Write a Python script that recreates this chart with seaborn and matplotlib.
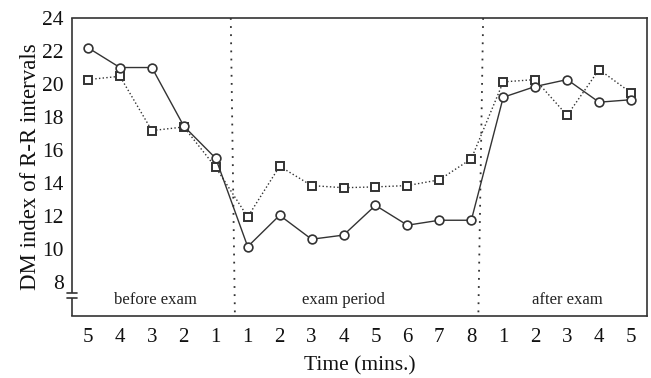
import numpy as np
import pandas as pd
import matplotlib
matplotlib.use("Agg")
import matplotlib.pyplot as plt
import seaborn as sns

# Time labels for the three phases
before_ticks = ["5", "4", "3", "2", "1"]
exam_ticks = ["1", "2", "3", "4", "5", "6", "7", "8"]
after_ticks = ["1", "2", "3", "4", "5"]
tick_labels = before_ticks + exam_ticks + after_ticks

# DM index of R-R intervals, two groups
circle_values = [22.2, 21.0, 21.0, 17.45, 15.5,
                 10.15, 12.05, 10.6, 10.85, 12.65, 11.45, 11.75, 11.75,
                 19.2, 19.85, 20.27, 18.9, 19.05]
square_values = [20.27, 20.47, 17.18, 17.4, 14.95,
                 11.95, 15.02, 13.85, 13.72, 13.77, 13.85, 14.2, 15.47,
                 20.13, 20.27, 18.1, 20.88, 19.47]

phase_names = ["before exam", "exam period", "after exam"]

sns.set_theme(style="white")
plt.rcParams["font.family"] = ["Liberation Serif", "DejaVu Serif"]

pos = np.arange(len(tick_labels))
df = pd.DataFrame({"pos": pos, "circle": circle_values, "square": square_values})

fig = plt.figure(figsize=(6.51, 3.78), dpi=100)
ax = fig.add_axes([72 / 651, 1 - 316 / 378, (647 - 72) / 651, (316 - 18) / 378])

line_color = "#333333"
sns.lineplot(data=df, x="pos", y="square", ax=ax, color=line_color,
             linestyle=":", linewidth=1.0, marker="s", markersize=5.8,
             markerfacecolor="white", markeredgecolor=line_color,
             markeredgewidth=1.4, zorder=3)
sns.lineplot(data=df, x="pos", y="circle", ax=ax, color=line_color,
             linestyle="-", linewidth=1.0, marker="o", markersize=6.3,
             markerfacecolor="white", markeredgecolor=line_color,
             markeredgewidth=1.2, zorder=4)

ax.set_xlim(-0.5, len(tick_labels) - 0.5)
ax.set_ylim(5.95, 24)

# Phase separators (dotted)
ax.plot([4.47, 4.6], [24, 5.95], linestyle=(0, (1, 3.5)), color=line_color,
        linewidth=1.3, zorder=2)
ax.plot([12.37, 12.22], [24, 5.95], linestyle=(0, (1, 3.5)), color=line_color,
        linewidth=1.3, zorder=2)

# Phase labels
ax.text(2.1, 6.9, phase_names[0], ha="center", va="center", fontsize=12, color="#222222")
ax.text(8.0, 6.9, phase_names[1], ha="center", va="center", fontsize=12, color="#222222")
ax.text(15.0, 6.9, phase_names[2], ha="center", va="center", fontsize=12, color="#222222")

ax.set_xticks(pos)
ax.set_xticklabels(tick_labels)
ax.set_yticks([8, 10, 12, 14, 16, 18, 20, 22, 24])
ax.tick_params(axis="x", direction="in", length=2, width=1, colors="#555555",
               labelsize=15, labelcolor="#111111", pad=9)
ax.tick_params(axis="y", length=0, labelsize=15.5, labelcolor="#111111", pad=6)

for side in ["top", "right", "bottom"]:
    ax.spines[side].set_visible(True)
    ax.spines[side].set_color("#333333")
    ax.spines[side].set_linewidth(1.2)

# Left axis with a break near the bottom
ax.spines["left"].set_visible(False)
trans = ax.get_yaxis_transform()
lower_gap, upper_gap = 7.06, 7.34
ax.plot([0, 0], [5.95, lower_gap], transform=trans, color="#333333",
        linewidth=1.2, clip_on=False, solid_capstyle="butt")
ax.plot([0, 0], [upper_gap, 24], transform=trans, color="#333333",
        linewidth=1.2, clip_on=False, solid_capstyle="butt")
for yv in (lower_gap, upper_gap):
    ax.plot([-0.009, 0.009], [yv, yv], transform=trans, color="#333333",
            linewidth=1.2, clip_on=False)

ax.set_xlabel("Time (mins.)", fontsize=15.5, color="#111111", labelpad=6)
ax.set_ylabel("DM index of R-R intervals", fontsize=16.5, color="#111111", labelpad=1)
ax.grid(False)

fig.savefig("out.png", dpi=100)
